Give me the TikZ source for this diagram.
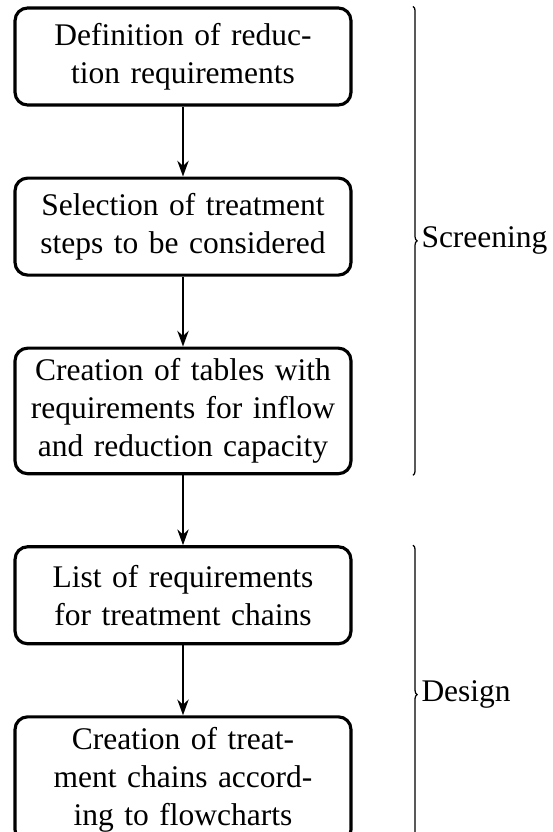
\documentclass[tikz,border=0pt]{standalone}
\usepackage{fontspec}
\setmainfont{Liberation Serif}
\usetikzlibrary{arrows.meta, positioning, decorations.pathreplacing}

\begin{document}
\begin{tikzpicture}[x=0.3175pt, y=-0.3175pt,
    stepbox/.style={draw, line width=1pt, rounded corners=4pt, text width=100pt,
      align=center, minimum height=30.8pt, inner sep=3.33pt},
    flow/.style={-{Stealth[length=5pt, width=3.6pt]}, semithick},
    phase/.style={decorate, decoration={brace, amplitude=1.3pt}, thin}]
      \useasboundingbox (0,0) rectangle (553,832);

      \node[stepbox] (def) at (183,56.5) {Definition of reduc-\\tion requirements};
      \node[stepbox, below=22.2pt of def] (sel) {Selection of treatment\\steps to be considered};
      \node[stepbox, below=22.2pt of sel] (tab) {Creation of tables with\\requirements for inflow\\and reduction capacity};
      \node[stepbox, below=22.2pt of tab] (req) {List of requirements\\for treatment chains};
      \node[stepbox, below=22.2pt of req] (cha) {Creation of treat-\\ment chains accord-\\ing to flowcharts};

      \draw[flow] (def) -- (sel);
      \draw[flow] (sel) -- (tab);
      \draw[flow] (tab) -- (req);
      \draw[flow] (req) -- (cha);

      % phases
      \coordinate (brx) at (413,0);
      \draw[phase] (def.north -| brx) -- (tab.south -| brx)
        node[midway, right=2.5pt, inner sep=0pt] (scr) {Screening};
      \draw[phase] (req.north -| brx) -- (cha.south -| brx)
        node[midway, right=2.5pt, inner sep=0pt] (des) {Design};
    \end{tikzpicture}
\end{document}
